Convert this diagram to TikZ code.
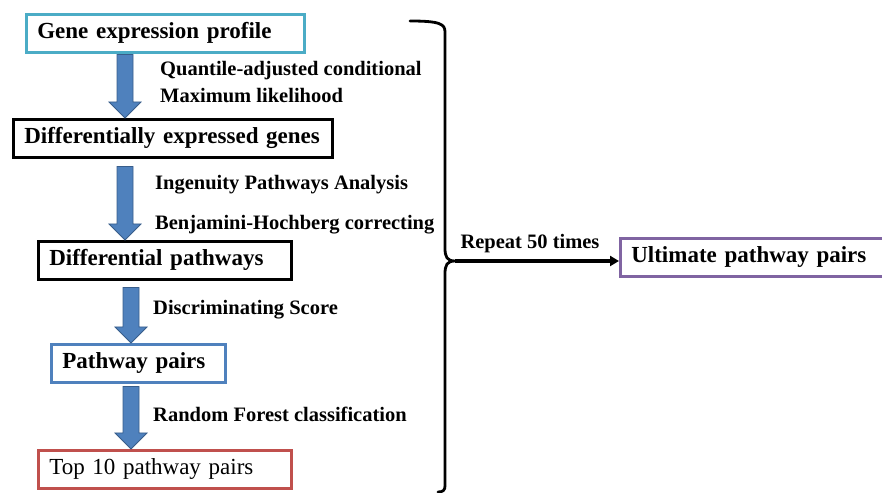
\documentclass[tikz,border=0pt]{standalone}
\usepackage{fontspec}
\setmainfont{Liberation Serif}
\usetikzlibrary{arrows.meta,calc}
\definecolor{cteal}{HTML}{4BACC6}
\definecolor{cblue}{HTML}{4F81BD}
\definecolor{cbluedark}{HTML}{385D8A}
\definecolor{cred}{HTML}{C0504D}
\definecolor{cpurple}{HTML}{8064A2}
\newcommand{\blockarrow}[4]{%
  \path[barrow] let \p1=(#1.south), \p2=(#2.north), \p3=(#3) in
   (\x3-8pt,\y1-#4) -- (\x3+8pt,\y1-#4) -- (\x3+8pt,\y2+16pt) -- (\x3+16pt,\y2+16pt)
   -- (\x3,\y2) -- (\x3-16pt,\y2+16pt) -- (\x3-8pt,\y2+16pt) -- cycle;}
\begin{document}
\begin{tikzpicture}[x=1pt,y=1pt,
  box/.style={draw=#1, line width=2.6pt, fill=white, minimum height=38pt,
    inner xsep=11pt, inner ysep=0pt, align=left, anchor=north west,
    font=\fontsize{23}{26}\selectfont\bfseries},
  lbl/.style={anchor=west, inner sep=0pt, font=\fontsize{20.5}{24}\selectfont\bfseries},
  barrow/.style={fill=cblue, draw=cbluedark, line width=0.8pt, line join=miter}]
\useasboundingbox (0,0) rectangle (882,492);

\node[box=cteal, minimum width=278pt, text width=256pt] (gep) at (25,479) {Gene expression profile};
\node[box=black, minimum width=319pt, text width=297pt] (deg) at (12,374) {Differentially expressed genes};
\node[box=black, minimum width=253pt, text width=231pt] (dp) at (37,252) {Differential pathways};
\node[box=cblue, minimum width=174pt, text width=152pt] (pp) at (50,149) {Pathway pairs};
\node[box=cred, minimum width=253pt, text width=231pt, font=\fontsize{23}{26}\selectfont] (top) at (37,43) {Top 10 pathway pairs};
\node[box=cpurple, minimum width=266pt, text width=244pt] (ult) at (619,255) {Ultimate pathway pairs};

\coordinate (ax1) at (125,0);
\coordinate (ax2) at (131,0);
\blockarrow{gep}{deg}{ax1}{1pt}
\blockarrow{deg}{dp}{ax1}{8pt}
\blockarrow{dp}{pp}{ax2}{7pt}
\blockarrow{pp}{top}{ax2}{3pt}

\node[lbl] (l1) at (160,421) {Quantile-adjusted conditional};
\node[lbl] (l2) at (160,396) {Maximum likelihood};
\node[lbl] (l3) at (155,307) {Ingenuity Pathways Analysis};
\node[lbl] (l4) at (155,267) {Benjamini-Hochberg correcting};
\node[lbl] (l5) at (153,182) {Discriminating Score};
\node[lbl] (l6) at (153,78) {Random Forest classification};

\coordinate (btop) at (410,471);
\coordinate (btip) at (455,231);
\coordinate (bbot) at (438,0);
\draw[line width=2.8pt, line cap=round]
  (btop) .. controls (440,471) and (445,468) .. (445,460)
  -- (445,244) .. controls (445,235) and (447,231) .. (btip)
  .. controls (447,231) and (445,227) .. (445,218)
  -- (445,6) .. controls (445,2) and (443,0) .. (bbot);
\draw[line width=3.2pt, -{Triangle[length=9pt,width=10pt]}] (btip) -- (btip -| ult.west);
\node[lbl, anchor=center] (rep) at (530,248) {Repeat 50 times};
\end{tikzpicture}
\end{document}
